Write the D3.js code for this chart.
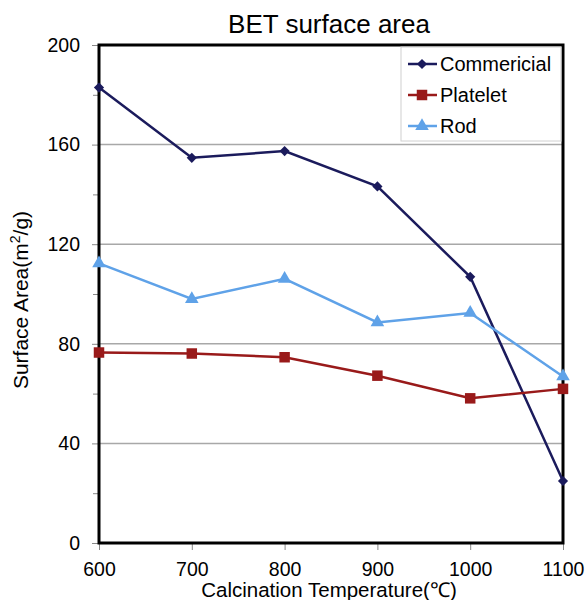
<!doctype html>
<html>
<head>
<meta charset="utf-8">
<style>
  body { margin: 0; background: #fff; }
  text { font-family: "Liberation Sans", Arial, sans-serif; fill: #000; }
</style>
<script src="https://d3js.org/d3.v7.min.js"></script>
</head>
<body>
<svg width="588" height="600"></svg>
<script>
var temps = [600, 700, 800, 900, 1000, 1100];
var commericial = [182.9, 154.7, 157.4, 143.2, 106.9, 24.9];
var platelet = [76.5, 76.1, 74.6, 67.2, 58.1, 61.9];
var rod = [112.3, 98.0, 106.1, 88.6, 92.4, 66.9];
var seriesNames = ["Commericial", "Platelet", "Rod"];
var yTicks = [0, 40, 80, 120, 160, 200];
var yMinor = [20, 60, 100, 140, 180];

var svg = d3.select("svg"),
    plotLeft = 99, plotRight = 563, plotTop = 45, plotBottom = 543;

var x = d3.scaleLinear().domain([600, 1100]).range([plotLeft, plotRight]);
var y = d3.scaleLinear().domain([0, 200]).range([plotBottom, plotTop]);

// commercial uses a square turned 45 degrees (wider diamond than d3's)
var series = [
  { name: seriesNames[0], values: commericial, color: "#1b1b5c", shape: d3.symbolSquare, size: 52, rot: 45 },
  { name: seriesNames[1], values: platelet, color: "#991a1a", shape: d3.symbolSquare, size: 110, rot: 0 },
  { name: seriesNames[2], values: rod, color: "#5fa2e8", shape: d3.symbolTriangle, size: 80, rot: 0 }
];

// gridlines
svg.append("g")
   .selectAll("line")
   .data(yTicks.slice(1, -1))
   .enter().append("line")
   .attr("x1", plotLeft).attr("x2", plotRight)
   .attr("y1", function(d) { return y(d); })
   .attr("y2", function(d) { return y(d); })
   .attr("stroke", "#a8a8a8")
   .attr("stroke-width", 1.5);

// y axis with minor ticks
svg.append("g")
   .attr("transform", "translate(" + plotLeft + ",0)")
   .call(d3.axisLeft(y).tickValues(yMinor).tickSize(6).tickFormat(""))
   .call(function(g) { g.select(".domain").remove(); g.selectAll("line").attr("stroke", "#888"); });

var yAxis = svg.append("g")
   .attr("transform", "translate(" + plotLeft + ",0)")
   .call(d3.axisLeft(y).tickValues(yTicks).tickSize(7).tickPadding(12));
yAxis.select(".domain").remove();
yAxis.selectAll("line").attr("stroke", "#888");
yAxis.selectAll("text")
     .attr("font-size", "19.5px")
     .attr("font-family", "Liberation Sans, Arial, sans-serif")
     .attr("fill", "#000");

var xAxis = svg.append("g")
   .attr("transform", "translate(0," + plotBottom + ")")
   .call(d3.axisBottom(x).tickValues(temps).tickSize(7).tickPadding(12).tickFormat(d3.format("d")));
xAxis.select(".domain").remove();
xAxis.selectAll("line").attr("stroke", "#888");
xAxis.selectAll("text")
     .attr("font-size", "19.5px")
     .attr("font-family", "Liberation Sans, Arial, sans-serif")
     .attr("fill", "#000");

// plot frame
svg.append("rect")
   .attr("x", plotLeft).attr("y", plotTop)
   .attr("width", plotRight - plotLeft).attr("height", plotBottom - plotTop)
   .attr("fill", "none")
   .attr("stroke", "#000")
   .attr("stroke-width", 3);

// lines and markers
var line = d3.line()
   .x(function(d, i) { return x(temps[i]); })
   .y(function(d) { return y(d); });

series.forEach(function(s) {
  svg.append("path")
     .datum(s.values)
     .attr("fill", "none")
     .attr("stroke", s.color)
     .attr("stroke-width", 2.5)
     .attr("d", line);
  svg.append("g")
     .selectAll("path")
     .data(s.values)
     .enter().append("path")
     .attr("transform", function(d, i) { return "translate(" + x(temps[i]) + "," + y(d) + ") rotate(" + s.rot + ")"; })
     .attr("d", d3.symbol().type(s.shape).size(s.size))
     .attr("fill", s.color);
});

// legend
var legend = svg.append("g");
legend.append("rect")
   .attr("x", 401).attr("y", 47)
   .attr("width", 160).attr("height", 94)
   .attr("fill", "#fff")
   .attr("stroke", "#d0d0d0")
   .attr("stroke-width", 1);

series.forEach(function(s, i) {
  var ly = 64 + i * 31;
  legend.append("line")
     .attr("x1", 408).attr("x2", 437)
     .attr("y1", ly).attr("y2", ly)
     .attr("stroke", s.color)
     .attr("stroke-width", 2.5);
  legend.append("path")
     .attr("transform", "translate(422," + ly + ") rotate(" + s.rot + ")")
     .attr("d", d3.symbol().type(s.shape).size(s.size))
     .attr("fill", s.color);
  legend.append("text")
     .attr("x", 440).attr("y", ly + 7)
     .attr("font-size", "20px")
     .text(s.name);
});

// titles
svg.append("text")
   .attr("x", 329).attr("y", 33)
   .attr("text-anchor", "middle")
   .attr("font-size", "26px")
   .text("BET surface area");

svg.append("text")
   .attr("x", 329).attr("y", 597)
   .attr("text-anchor", "middle")
   .attr("font-size", "20.5px")
   .text("Calcination Temperature(℃)");

var yt = svg.append("text")
   .attr("transform", "translate(28,300) rotate(-90)")
   .attr("text-anchor", "middle")
   .attr("font-size", "21px");
yt.append("tspan").text("Surface Area(m");
yt.append("tspan").attr("font-size", "14px").attr("dy", -8).text("2");
yt.append("tspan").attr("dy", 8).text("/g)");
</script>
</body>
</html>
